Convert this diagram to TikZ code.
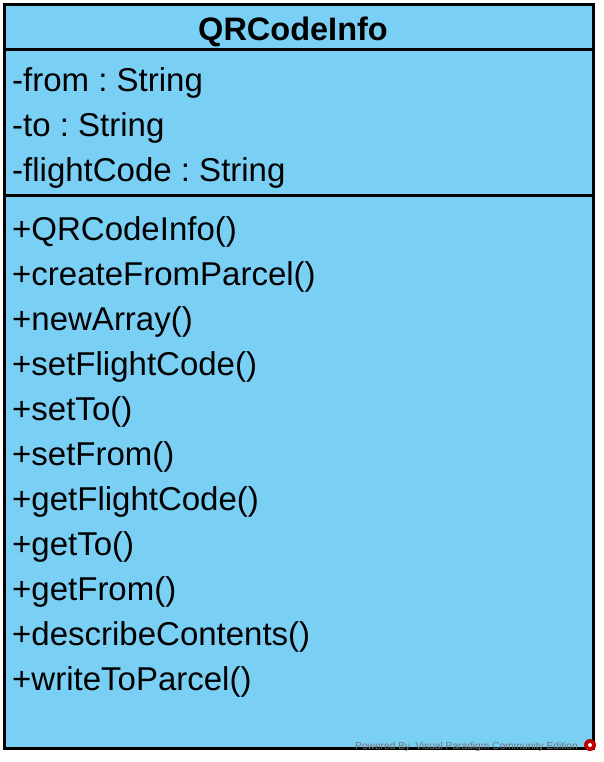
\documentclass[tikz,border=0pt]{standalone}
\usepackage{fontspec}
\setmainfont{Liberation Sans}
\frenchspacing
\begin{document}
\begin{tikzpicture}[x=1pt,y=-1pt,
  member/.style={anchor=base west,inner sep=0pt,font=\fontsize{33}{34}\selectfont},
  titletext/.style={anchor=base,inner sep=0pt,font=\fontsize{32.5}{34}\selectfont\bfseries},
  border/.style={line width=3pt,draw=black}]
\definecolor{vpblue}{RGB}{122,207,245}
\useasboundingbox (0,0) rectangle (603,762);
\fill[white] (0,0) rectangle (603,762);
\coordinate (tl) at (4,5); \coordinate (br) at (593,748);
\draw[border,fill=vpblue] (tl) rectangle (br);
\coordinate (s1l) at (4,49.5); \coordinate (s1r) at (593,49.5);
\coordinate (s2l) at (4,195.5); \coordinate (s2r) at (593,195.5);
\draw[border] (s1l) -- (s1r);
\draw[border] (s2l) -- (s2r);
\node[titletext] (title) at (293,41) {QRCodeInfo};
\node[member] (a1) at (12,92) {-from : String};
\node[member] (a2) at (12,137) {-to : String};
\node[member] (a3) at (12,182) {-flightCode : String};
\node[member] (m1) at (12,240) {+QRCodeInfo()};
\node[member] (m2) at (12,285) {+createFromParcel()};
\node[member] (m3) at (12,330) {+newArray()};
\node[member] (m4) at (12,375) {+setFlightCode()};
\node[member] (m5) at (12,420) {+setTo()};
\node[member] (m6) at (12,465) {+setFrom()};
\node[member] (m7) at (12,510) {+getFlightCode()};
\node[member] (m8) at (12,555) {+getTo()};
\node[member] (m9) at (12,600) {+getFrom()};
\node[member] (m10) at (12,645) {+describeContents()};
\node[member] (m11) at (12,690) {+writeToParcel()};
\node[anchor=base west,inner sep=0pt,text=black!55,font=\fontsize{10.2}{11}\selectfont] (wm) at (355,749.5) {Powered By\,\,\,Visual Paradigm Community Edition};
\fill[red!75!black] (590,745) circle (6pt);
\fill[white] (590,745) circle (2pt);
\end{tikzpicture}
\end{document}
